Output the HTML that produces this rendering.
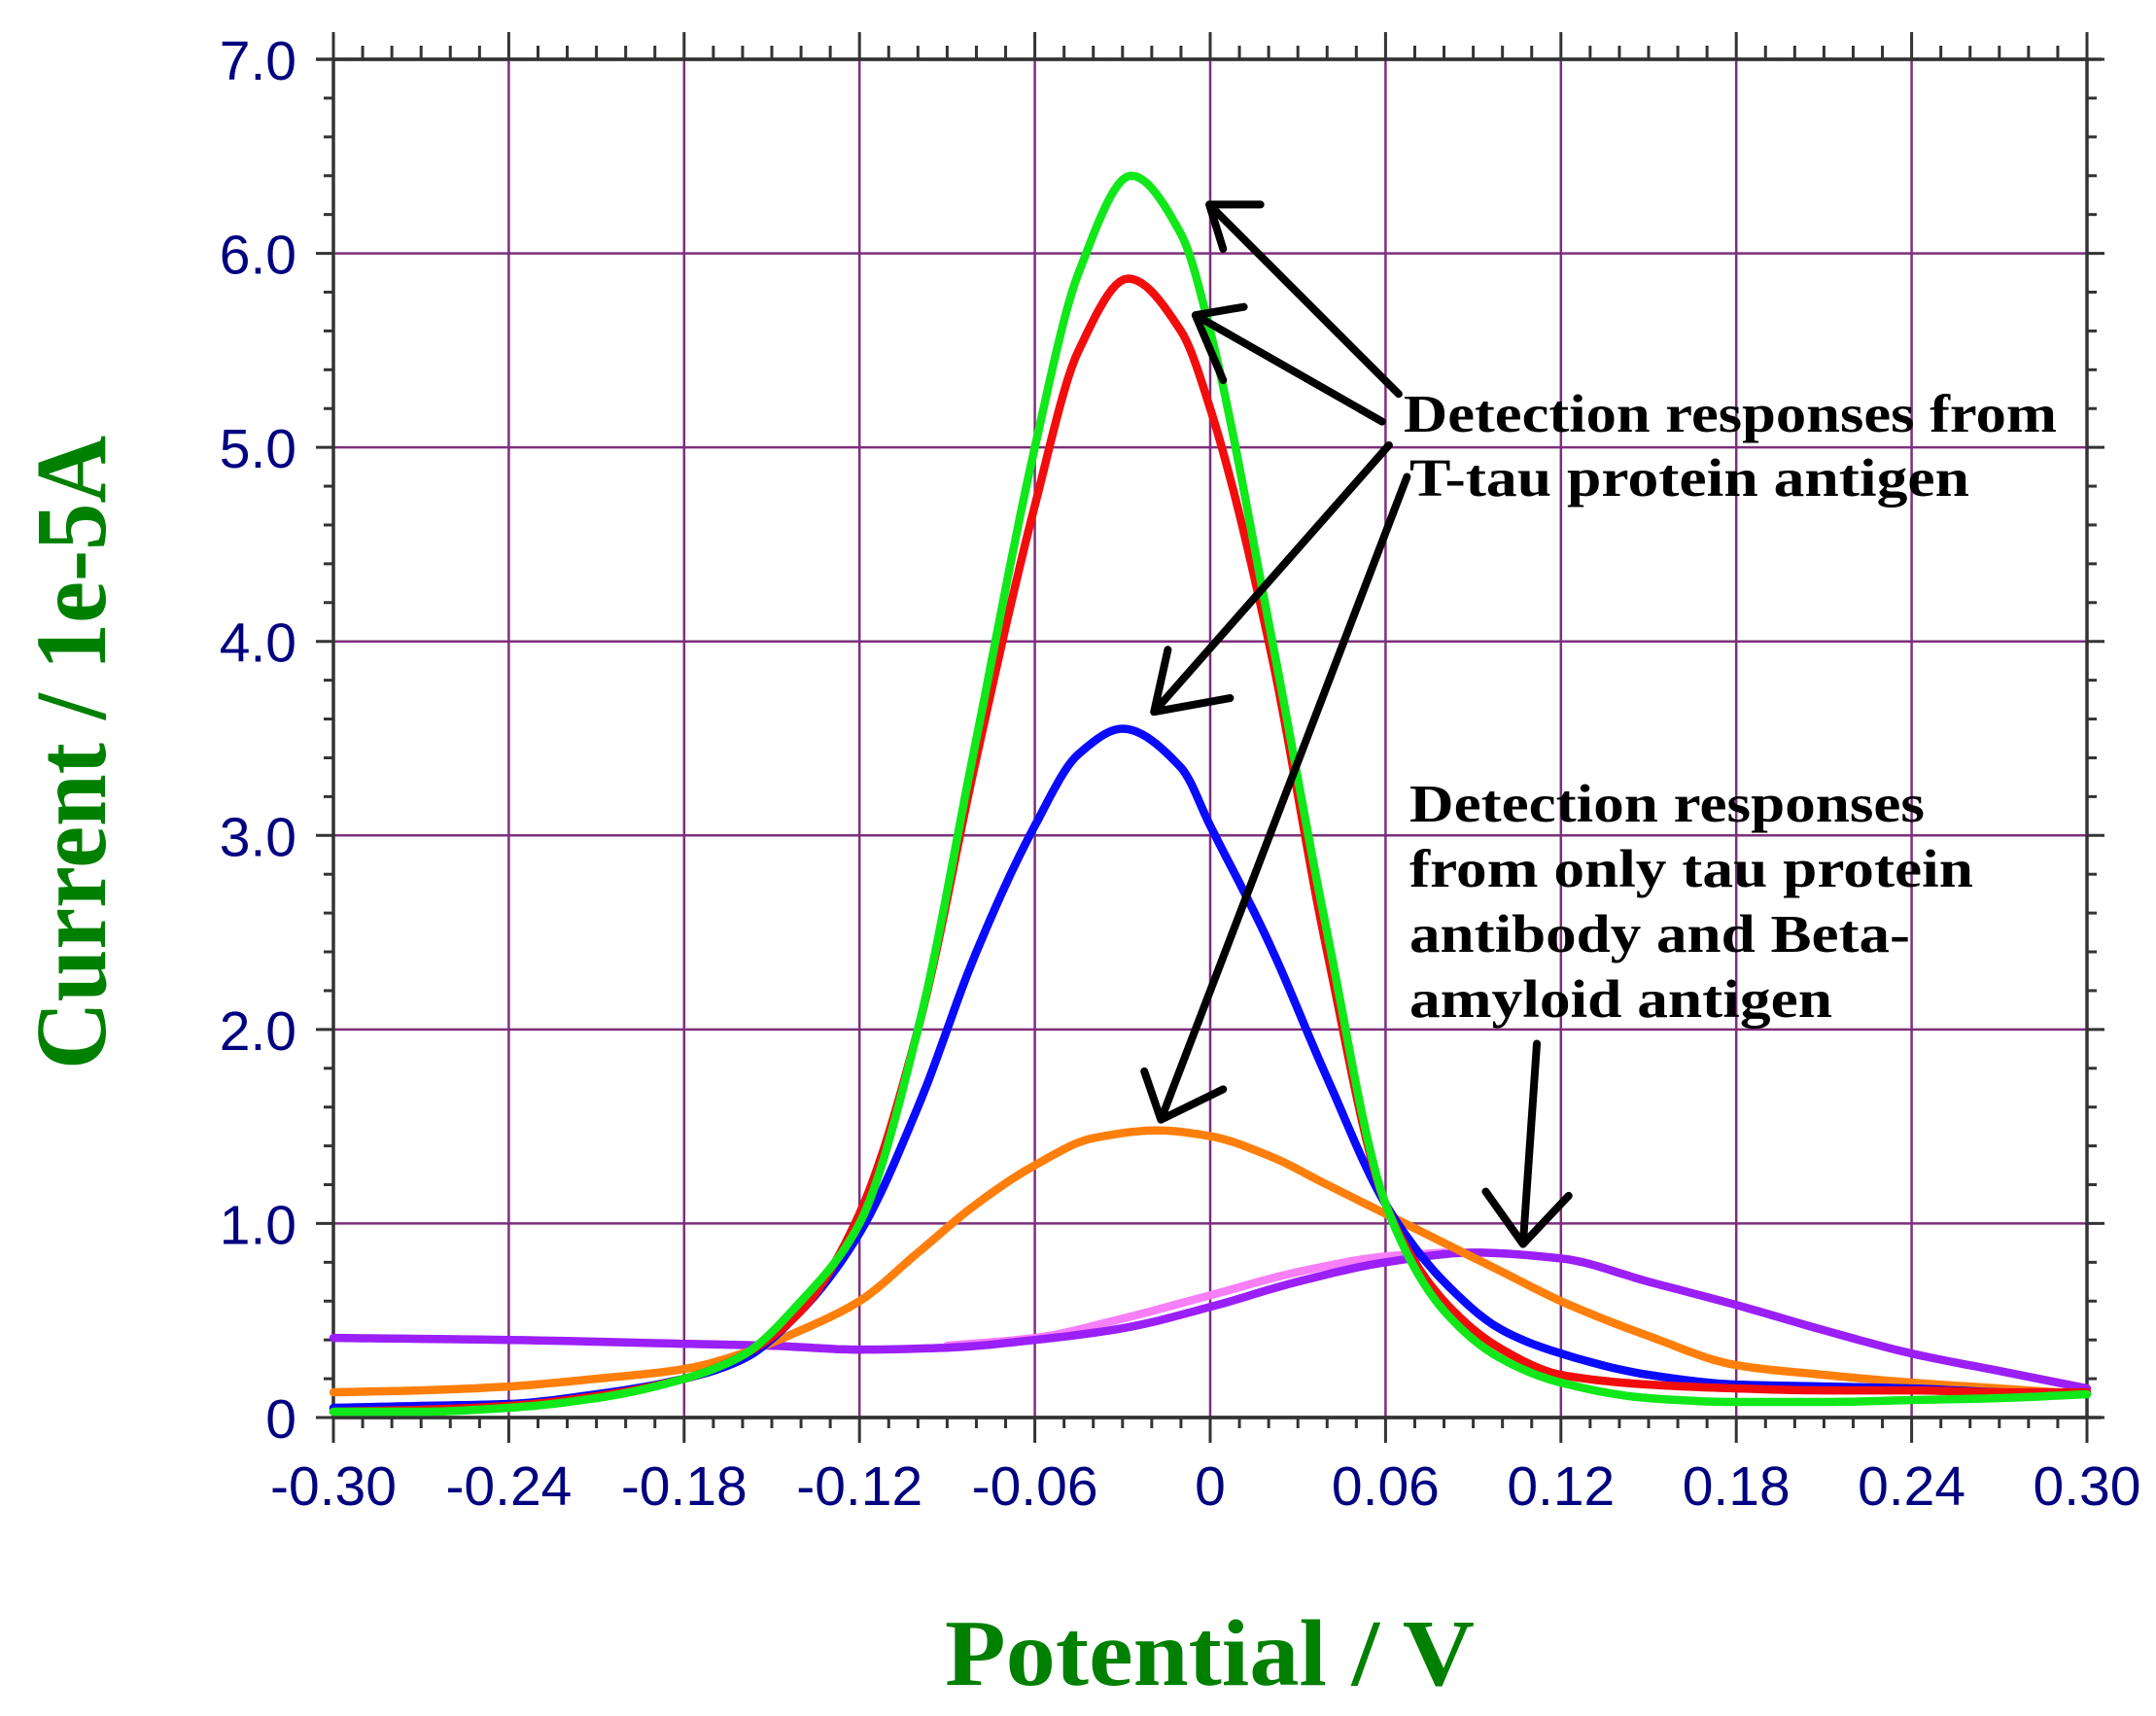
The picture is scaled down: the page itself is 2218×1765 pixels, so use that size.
<!DOCTYPE html>
<html><head><meta charset="utf-8"><style>
html,body{margin:0;padding:0;background:#fff;}
svg{display:block;}
</style></head><body>
<svg id="chart" width="2218" height="1765" viewBox="0 0 2218 1765" xmlns="http://www.w3.org/2000/svg">
<rect x="0" y="0" width="2218" height="1765" fill="#fff"/>
<g id="grid"></g>
<g id="axes"></g>
<g id="series"></g>
<g id="annot">
<text x="1444" y="444" font-family="Liberation Serif, serif" font-weight="bold" font-size="55" textLength="672" lengthAdjust="spacingAndGlyphs">Detection responses from</text>
<text x="1450" y="510" font-family="Liberation Serif, serif" font-weight="bold" font-size="55" textLength="576" lengthAdjust="spacingAndGlyphs">T-tau protein antigen</text>
<text x="1450" y="845" font-family="Liberation Serif, serif" font-weight="bold" font-size="55" textLength="530" lengthAdjust="spacingAndGlyphs">Detection responses</text>
<text x="1450" y="912" font-family="Liberation Serif, serif" font-weight="bold" font-size="55" textLength="580" lengthAdjust="spacingAndGlyphs">from only tau protein</text>
<text x="1450" y="979" font-family="Liberation Serif, serif" font-weight="bold" font-size="55" textLength="515" lengthAdjust="spacingAndGlyphs">antibody and Beta-</text>
<text x="1450" y="1046" font-family="Liberation Serif, serif" font-weight="bold" font-size="55" textLength="435" lengthAdjust="spacingAndGlyphs">amyloid antigen</text>
</g>
<g id="arrows"></g>
<text transform="translate(108,774) rotate(-90)" text-anchor="middle" font-family="Liberation Serif, serif" font-weight="bold" font-size="104" fill="#008000" textLength="652" lengthAdjust="spacingAndGlyphs">Current / 1e-5A</text>
<text x="972" y="1733" font-family="Liberation Serif, serif" font-weight="bold" font-size="98" fill="#008000" textLength="545" lengthAdjust="spacingAndGlyphs">Potential / V</text>
</svg>
<script>
// ---- data ----
const xTicks = [-0.30,-0.24,-0.18,-0.12,-0.06,0,0.06,0.12,0.18,0.24,0.30];
const xTickLabels = ["-0.30","-0.24","-0.18","-0.12","-0.06","0","0.06","0.12","0.18","0.24","0.30"];
const yTicks = [0,1,2,3,4,5,6,7];
const yTickLabels = ["0","1.0","2.0","3.0","4.0","5.0","6.0","7.0"];

const greenX = [-0.30,-0.27,-0.24,-0.21,-0.18,-0.16,-0.14,-0.12,-0.10,-0.08,-0.06,-0.045,-0.027,-0.01,0,0.02,0.04,0.06,0.08,0.10,0.12,0.15,0.18,0.21,0.24,0.27,0.30];
const greenY = [0.03,0.03,0.05,0.1,0.2,0.32,0.6,1.0,2.0,3.5,5.0,5.9,6.4,6.1,5.6,4.1,2.5,1.1,0.55,0.3,0.18,0.1,0.08,0.08,0.09,0.1,0.12];

const redX = [-0.30,-0.27,-0.24,-0.21,-0.18,-0.16,-0.14,-0.12,-0.10,-0.08,-0.06,-0.045,-0.028,-0.01,0,0.02,0.04,0.06,0.08,0.10,0.12,0.15,0.18,0.21,0.24,0.27,0.30];
const redY = [0.03,0.04,0.06,0.11,0.2,0.32,0.55,1.05,2.0,3.4,4.7,5.5,5.87,5.6,5.2,4.0,2.4,1.1,0.6,0.35,0.22,0.17,0.15,0.14,0.14,0.13,0.13];

const blueX = [-0.30,-0.27,-0.24,-0.21,-0.18,-0.16,-0.14,-0.12,-0.10,-0.08,-0.06,-0.045,-0.03,-0.01,0,0.02,0.04,0.06,0.08,0.10,0.12,0.15,0.18,0.21,0.24,0.27,0.30];
const blueY = [0.05,0.06,0.07,0.12,0.2,0.3,0.55,0.95,1.6,2.4,3.05,3.42,3.55,3.35,3.05,2.45,1.75,1.1,0.7,0.45,0.33,0.22,0.17,0.16,0.15,0.13,0.12];

const orangeX = [-0.30,-0.27,-0.24,-0.21,-0.18,-0.16,-0.14,-0.12,-0.10,-0.08,-0.06,-0.04,-0.018,0,0.02,0.04,0.06,0.08,0.10,0.12,0.15,0.18,0.21,0.24,0.27,0.30];
const orangeY = [0.13,0.14,0.16,0.2,0.25,0.33,0.45,0.6,0.85,1.1,1.3,1.44,1.48,1.45,1.35,1.2,1.05,0.9,0.75,0.6,0.42,0.27,0.22,0.18,0.15,0.12];

const purpleX = [-0.30,-0.24,-0.18,-0.15,-0.12,-0.09,-0.06,-0.03,0,0.03,0.06,0.09,0.12,0.15,0.18,0.21,0.24,0.27,0.30];
const purpleY = [0.41,0.4,0.38,0.37,0.35,0.36,0.4,0.46,0.57,0.7,0.8,0.85,0.82,0.7,0.58,0.45,0.33,0.24,0.15];

const pinkX = [-0.09,-0.06,-0.03,0,0.03,0.06,0.08];
const pinkY = [0.37,0.41,0.51,0.63,0.75,0.83,0.85];

// ---- layout ----
const L=343,R=2147,T=61,B=1458;
const xMin=-0.30,xMax=0.30,yMin=0,yMax=7;
function sx(v){return L+(v-xMin)/(xMax-xMin)*(R-L);}
function sy(v){return B-(v-yMin)/(yMax-yMin)*(B-T);}
const NS="http://www.w3.org/2000/svg";
function mk(tag,parent,attrs){const e=document.createElementNS(NS,tag);for(const k in attrs)e.setAttribute(k,attrs[k]);parent.appendChild(e);return e;}

const grid=document.getElementById('grid');
const axes=document.getElementById('axes');
const gridColor="#7d2f7d";
xTicks.forEach((v,i)=>{
  if(i>0&&i<xTicks.length-1){
    const g=mk('line',grid,{x1:sx(v),x2:sx(v),y1:T,y2:B,stroke:gridColor,'stroke-width':2.5});
    
    
  }
  const t=mk('text',axes,{x:sx(v),y:1548,'text-anchor':'middle','font-family':'Liberation Sans, sans-serif','font-size':57,fill:'#000080'});
  t.textContent=xTickLabels[i];
  
  
});
yTicks.forEach((v,i)=>{
  if(i>0&&i<yTicks.length-1){
    const g=mk('line',grid,{x1:L,x2:R,y1:sy(v),y2:sy(v),stroke:gridColor,'stroke-width':2.5});
    
    
  }
  const t=mk('text',axes,{x:305,y:sy(v)+21,'text-anchor':'end','font-family':'Liberation Sans, sans-serif','font-size':57,fill:'#000080'});
  t.textContent=yTickLabels[i];
  
  
});
const ax="#333";
const frame=mk('rect',axes,{x:L,y:T,width:R-L,height:B-T,fill:'none',stroke:ax,'stroke-width':3.5});


mk('line',axes,{x1:325,x2:R+15,y1:T,y2:T,stroke:ax,'stroke-width':3.5});
mk('line',axes,{x1:L,x2:R+15,y1:B,y2:B,stroke:ax,'stroke-width':3.5});
for(let k=0;k<=60;k++){
  const v=-0.30+k*0.01; const x=sx(v); const major=(k%6===0);
  mk('line',axes,{x1:x,x2:x,y1:T,y2:T-(major?28:14),stroke:ax,'stroke-width':3});
  mk('line',axes,{x1:x,x2:x,y1:B,y2:B+(major?26:11),stroke:ax,'stroke-width':3});
}
for(let k=0;k<=35;k++){
  const v=k*0.2; const y=sy(v); const major=(k%5===0);
  mk('line',axes,{x1:L,x2:L-(major?18:10),y1:y,y2:y,stroke:ax,'stroke-width':3});
  mk('line',axes,{x1:R,x2:R+(major?18:10),y1:y,y2:y,stroke:ax,'stroke-width':3});
}

// monotone cubic (Fritsch-Carlson) interpolation in data space
function pathFrom(xs,ys){
  const n=xs.length, d=[], m=new Array(n);
  for(let i=0;i<n-1;i++) d.push((ys[i+1]-ys[i])/(xs[i+1]-xs[i]));
  m[0]=d[0]; m[n-1]=d[n-2];
  for(let i=1;i<n-1;i++){
    if(d[i-1]*d[i]<=0) m[i]=0;
    else { const w1=2*(xs[i+1]-xs[i])+(xs[i]-xs[i-1]), w2=(xs[i+1]-xs[i])+2*(xs[i]-xs[i-1]);
      m[i]=(w1+w2)/(w1/d[i-1]+w2/d[i]); }
  }
  let out=`M${sx(xs[0])},${sy(ys[0])}`;
  for(let i=0;i<n-1;i++){
    const h=xs[i+1]-xs[i];
    for(let s=1;s<=12;s++){
      const t=s/12, t2=t*t, t3=t2*t;
      const y=(2*t3-3*t2+1)*ys[i]+(t3-2*t2+t)*h*m[i]+(-2*t3+3*t2)*ys[i+1]+(t3-t2)*h*m[i+1];
      out+=` L${sx(xs[i]+t*h).toFixed(1)},${sy(y).toFixed(1)}`;
    }
  }
  return out;
}
const sg=document.getElementById('series');
[[pinkX,pinkY,'#f77ff7','pink-curve'],[purpleX,purpleY,'#9b1ff7','purple-curve'],[orangeX,orangeY,'#ff7f0a','orange-curve'],[blueX,blueY,'#0a0aff','blue-curve'],[redX,redY,'#f20d0d','red-curve'],[greenX,greenY,'#10e81a','green-curve']].forEach(s=>{
  const e=mk('path',sg,{d:pathFrom(s[0],s[1]),fill:'none',stroke:s[2],'stroke-width':8.5,'stroke-linejoin':'round','stroke-linecap':'round'});
  
  
});

const ag=document.getElementById('arrows');
const S=2218/1560;
const arrowDefs=[
 [[1012,285],[875,148],[912,148],[885,180]],
 [[1000,305],[865,228],[900,222],[885,275]],
 [[1005,322],[835,515],[890,505],[845,470]],
 [[1018,345],[840,810],[885,788],[828,775]],
 [[1112,755],[1102,900],[1135,865],[1075,862]]
];
arrowDefs.forEach(a=>{
  const [s,t,h1,h2]=a.map(p=>[p[0]*S,p[1]*S]);
  const e=mk('path',ag,{d:`M${s[0]},${s[1]} L${t[0]},${t[1]} M${h1[0]},${h1[1]} L${t[0]},${t[1]} L${h2[0]},${h2[1]}`,fill:'none',stroke:'#000','stroke-width':8,'stroke-linecap':'round','stroke-linejoin':'round'});
  
  
});
</script>
</body></html>
